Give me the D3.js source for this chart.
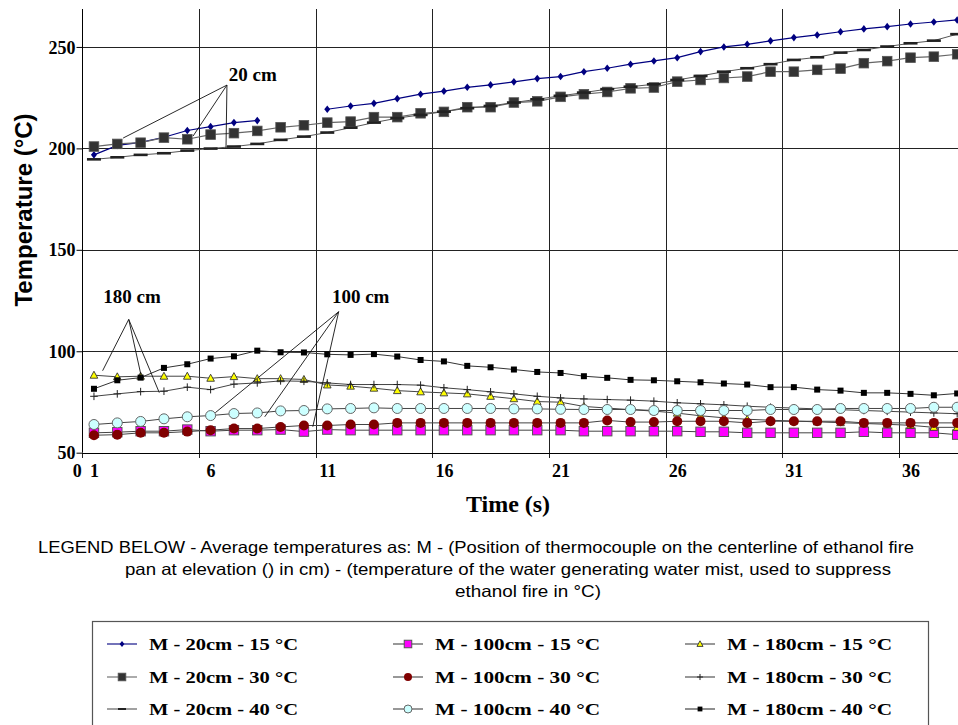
<!DOCTYPE html>
<html><head><meta charset="utf-8">
<script src="https://cdn.jsdelivr.net/npm/d3@7/dist/d3.min.js"></script>
<style>body{margin:0;background:#fff}svg{display:block}</style>
</head><body>
<svg id="c" width="958" height="725"></svg>
<script>
// ---------- data ----------
const categories = d3.range(1, 39);
const xTickLabels = [1, 6, 11, 16, 21, 26, 31, 36];
const yTicks = [50, 100, 150, 200, 250];

const s20_15  = [196.8,201.5,203,205.5,208.8,210.7,212.7,213.7,null,null,219.3,220.9,222.2,224.5,226.7,228.2,230.1,231.3,232.8,234.4,235.4,237.8,239.5,241.5,243.1,244.7,247.7,250,251.3,253,254.6,255.9,257.5,258.9,260,261.3,262.3,263.3];
const s20_30  = [200.9,202.2,202.8,205.3,204.5,206.8,207.5,208.6,210.4,211.4,212.7,213.2,215.4,215.4,217.3,218,220.3,220.3,222.6,223.2,225.4,226.7,227.8,229.6,230,232.9,233.7,234.7,235.4,237.8,237.8,238.7,239.3,242,243,244.7,245.2,246.4];
const s20_40  = [194.6,195.6,196.8,197.6,198.9,199.9,200.9,202.2,204.2,205.8,207.8,210.2,212.7,214.9,216.5,218.1,219.8,220.9,222.6,224.2,225.9,227.5,229.2,230.4,231.6,233.7,235.7,237.8,239.5,241.5,243.6,244.9,247.2,248.5,250.2,251.8,253.1,256.3];
const s100_15 = [59.8,60.1,60.6,60.6,61.4,60.6,61.1,61.1,61.4,60.4,61.4,61.1,61.1,61.1,61.1,61.1,61.1,61.1,61.1,61.1,61.1,60.6,60.6,60.6,60.6,60.6,60.3,60.3,59.8,59.8,59.8,59.8,59.8,60.3,59.8,59.8,59.8,58.9];
const s100_30 = [58.6,58.9,59.8,59.8,60.4,61.1,61.9,61.9,62.7,63.4,63.4,63.9,63.9,64.7,64.7,64.7,64.7,64.7,64.7,64.7,64.7,64.7,65.9,65.1,65.1,65.5,65.5,65.5,64.7,65.5,65.5,65.5,65.5,64.7,64.7,64.7,64.7,64.7];
const s100_40 = [63.9,64.7,65.4,66.7,67.7,68.3,69.3,69.6,70.6,70.8,71.6,71.8,72.1,71.8,71.8,71.8,71.8,71.8,71.6,71.6,71.4,71.3,71.3,71.3,70.8,70.8,70.8,70.8,70.8,71.3,71.3,71.3,71.8,71.8,71.8,71.8,72.4,72.4];
const s180_15 = [88.2,87.4,87.7,87.7,87.7,86.7,87.5,86.5,86.5,86.1,83.4,82.8,81.8,80.6,80,79.5,79,77.8,76.6,75.2,74.9,72.8,72,71.2,70.5,69.5,68.2,67.2,66.5,66,65.6,65.2,64.8,64.4,64,63.5,62.5,62.5];
const s180_30 = [77.8,79,80.1,80.3,82.3,81.1,83.8,84.4,85.4,85.2,84.4,83.6,83.6,83.6,83.3,82,81.1,80,79,77.8,77,76.5,76.2,75.9,75.4,74.6,74.1,73.6,72.9,72.4,72,71.6,71.2,70.8,70.4,70,69.6,69.2];
const s180_40 = [81.5,85.7,87,91.8,93.6,96.4,97.5,100.3,99.5,99.4,98.5,98.2,98.6,97.4,95.7,95,92.8,92.1,91,89.8,89.3,87.7,86.9,85.9,85.7,85.2,84.7,84.1,83.6,82.3,82.3,81.1,80.6,79.5,79.5,79,78.3,79.2];

const seriesNames = ["M - 20cm - 15 °C","M - 20cm - 30 °C","M - 20cm - 40 °C",
                     "M - 100cm - 15 °C","M - 100cm - 30 °C","M - 100cm - 40 °C",
                     "M - 180cm - 15 °C","M - 180cm - 30 °C","M - 180cm - 40 °C"];
const seriesData = [s20_15, s20_30, s20_40, s100_15, s100_30, s100_40, s180_15, s180_30, s180_40];

const captionLines = [
  "LEGEND BELOW -  Average temperatures as: M - (Position of thermocouple on the centerline of ethanol fire",
  "pan at elevation () in cm) - (temperature of the water generating water mist, used to suppress",
  "ethanol fire  in °C)"
];
const annotationLabels = ["20 cm", "180 cm", "100 cm"];

// ---------- styles ----------
const styles = [
  {marker:"diamond", fill:"#000080", stroke:"#000080", line:"#000080", lw:1.2},
  {marker:"bigsquare", fill:"#333333", stroke:"#555", line:"#666", lw:1.2},
  {marker:"dash", fill:"#222", stroke:"none", line:"#555", lw:1},
  {marker:"square", fill:"#ff00ff", stroke:"#555", line:"#444", lw:1},
  {marker:"circle", fill:"#800000", stroke:"#800000", line:"#444", lw:1},
  {marker:"lcircle", fill:"#ccffff", stroke:"#666", line:"#444", lw:1},
  {marker:"triangle", fill:"#ffff00", stroke:"#333", line:"#444", lw:1},
  {marker:"plus", fill:"none", stroke:"#222", line:"#444", lw:1},
  {marker:"smallsquare", fill:"#000", stroke:"#000", line:"#333", lw:1}
];
const drawOrder = [0,3,6,1,4,7,2,5,8];

// ---------- scales ----------
const svg = d3.select("#c");
svg.append("rect").attr("width",958).attr("height",725).attr("fill","#fff");
const X0 = 82.3, BW = 23.33, Y0 = 452.7, YT = 9;
const x = d3.scaleLinear().domain([0.5, 38.5]).range([X0, X0 + 38*BW]);
const y = d3.scaleLinear().domain([50, 268.7]).range([Y0, YT]);
const plotRight = 958;

// grid
const grid = svg.append("g").attr("stroke","#222").attr("stroke-width",1).attr("shape-rendering","crispEdges");
grid.selectAll(".hg").data(yTicks.slice(1)).join("line")
  .attr("x1", X0).attr("x2", plotRight).attr("y1", d=>Math.round(y(d))+0.5).attr("y2", d=>Math.round(y(d))+0.5);
const boundaries = d3.range(0.5, 38, 5);
grid.selectAll(".vg").data(boundaries.slice(1)).join("line")
  .attr("x1", d=>Math.round(x(d))+0.5).attr("x2", d=>Math.round(x(d))+0.5)
  .attr("y1", YT).attr("y2", Y0+5);
grid.append("line").attr("x1",Math.round(X0)+0.5).attr("x2",Math.round(X0)+0.5).attr("y1",Y0).attr("y2",Y0+5);

// axes
const yAxis = svg.append("g").attr("transform",`translate(${Math.round(X0)+0.5},0)`)
  .call(d3.axisLeft(y).tickValues(yTicks).tickSize(6).tickSizeOuter(0).tickPadding(1));
yAxis.select(".domain").attr("stroke","#000").attr("d",`M0,${YT}V${Y0}`);
yAxis.selectAll(".tick line").attr("stroke","#000");
yAxis.selectAll("text").attr("font-family","Liberation Serif").attr("font-weight","bold").attr("font-size",18).attr("fill","#000").attr("dy","0.34em");

const xAxis = svg.append("g").attr("transform",`translate(0,${Math.round(Y0)+0.5})`)
  .call(d3.axisBottom(x).tickValues(xTickLabels).tickSize(0).tickSizeOuter(0).tickPadding(11).tickFormat(d3.format("d")));
xAxis.select(".domain").attr("stroke","#000").attr("d",`M${X0},0H${plotRight}`);
xAxis.selectAll("text").attr("font-family","Liberation Serif").attr("font-weight","bold").attr("font-size",18).attr("fill","#000");
svg.append("text").attr("x", X0-5).attr("y", 477).attr("text-anchor","middle")
  .attr("font-family","Liberation Serif").attr("font-weight","bold").attr("font-size",18).text("0");

// axis titles
svg.append("text").attr("transform",`translate(32,210) rotate(-90)`).attr("text-anchor","middle")
  .attr("font-family","Liberation Sans").attr("font-weight","bold").attr("font-size",24).text("Temperature (°C)");
svg.append("text").attr("x",508).attr("y",512).attr("text-anchor","middle")
  .attr("font-family","Liberation Serif").attr("font-weight","bold").attr("font-size",24).text("Time (s)");

// markers
function drawMarker(g, m, st, scale=1) {
  const s = scale;
  switch(m) {
    case "diamond": g.append("path").attr("d",`M0,${-3.8*s}L${3*s},0L0,${3.8*s}L${-3*s},0Z`).attr("fill",st.fill); break;
    case "bigsquare": g.append("rect").attr("x",-4.8*s).attr("y",-4.8*s).attr("width",9.6*s).attr("height",9.6*s).attr("fill",st.fill).attr("stroke",st.stroke).attr("stroke-width",0.8); break;
    case "dash": g.append("rect").attr("x",-7*s).attr("y",-1.3).attr("width",14*s).attr("height",2.6).attr("fill",st.fill); break;
    case "square": g.append("rect").attr("x",-4.7*s).attr("y",-4.7*s).attr("width",9.4*s).attr("height",9.4*s).attr("fill",st.fill).attr("stroke",st.stroke).attr("stroke-width",1); break;
    case "circle": g.append("circle").attr("r",5*s).attr("fill",st.fill); break;
    case "lcircle": g.append("circle").attr("r",5*s).attr("fill",st.fill).attr("stroke",st.stroke).attr("stroke-width",1); break;
    case "triangle": g.append("path").attr("d",`M0,${-4*s}L${3.8*s},${3*s}L${-3.8*s},${3*s}Z`).attr("fill",st.fill).attr("stroke",st.stroke).attr("stroke-width",0.9); break;
    case "plus": g.append("path").attr("d",`M${-3.8*s},0H${3.8*s}M0,${-3.8*s}V${3.8*s}`).attr("stroke",st.stroke).attr("stroke-width",1).attr("fill","none"); break;
    case "smallsquare": g.append("rect").attr("x",-3*s).attr("y",-3*s).attr("width",6*s).attr("height",6*s).attr("fill",st.fill); break;
  }
}

svg.append("clipPath").attr("id","clip").append("rect").attr("x",X0).attr("y",0).attr("width",plotRight-X0).attr("height",Y0+2);
const plot = svg.append("g").attr("clip-path","url(#clip)");
const line = d3.line().defined(d=>d.v!=null).x(d=>x(d.c)).y(d=>y(d.v));

drawOrder.forEach(i => {
  const st = styles[i];
  const pts = categories.map((c,k)=>({c, v: seriesData[i][k]}));
  const g = plot.append("g");
  g.append("path").datum(pts).attr("d", line).attr("fill","none").attr("stroke", st.line).attr("stroke-width", st.lw);
  g.selectAll("g.m").data(pts.filter(p=>p.v!=null)).join("g").attr("class","m")
    .attr("transform", d=>`translate(${x(d.c)},${y(d.v)})`)
    .each(function(){ drawMarker(d3.select(this), st.marker, st); });
});

// annotations (anchor points in data units: category position, temperature)
const annotations = [
  {label:annotationLabels[0], tx:6.78, ty:233, apex:[6.7,231.2], ends:[[2.25,205.1],[5.25,206.1],[6.66,200.2]]},
  {label:annotationLabels[1], tx:1.4, ty:124, apex:[2.49,115.7], ends:[[1.37,90.4],[3.03,87.5],[3.8,79.6]]},
  {label:annotationLabels[2], tx:11.2, ty:124, apex:[11.49,119.5], ends:[[6.2,69.7],[8.32,67.7],[10.38,62.8]]}
];
const ag = svg.append("g");
annotations.forEach(a=>{
  a.ends.forEach(e=>{
    ag.append("line").attr("x1",x(a.apex[0])).attr("y1",y(a.apex[1])).attr("x2",x(e[0])).attr("y2",y(e[1]))
      .attr("stroke","#111").attr("stroke-width",0.9);
  });
  ag.append("text").attr("x",x(a.tx)).attr("y",y(a.ty)).attr("font-family","Liberation Serif")
    .attr("font-weight","bold").attr("font-size",19).text(a.label);
});

// caption
const capPos = [{x:38, y:553, len:876}, {x:125, y:575, len:766}, {x:455, y:597, len:146}];
captionLines.forEach((t,i)=>{
  svg.append("text").attr("x",capPos[i].x).attr("y",capPos[i].y)
    .attr("font-family","Liberation Sans").attr("font-size",16.5)
    .attr("textLength",capPos[i].len).attr("lengthAdjust","spacingAndGlyphs").text(t);
});

// legend
svg.append("rect").attr("x",92.5).attr("y",621.5).attr("width",836).attr("height",140)
  .attr("fill","#fff").attr("stroke","#555").attr("stroke-width",1.2);
const legCols = [122, 408, 700], legRows = [644, 677, 709];
seriesNames.forEach((nm,i)=>{
  const col = Math.floor(i/3), row = i%3;
  const st = styles[i];
  const g = svg.append("g").attr("transform",`translate(${legCols[col]},${legRows[row]})`);
  g.append("line").attr("x1",-15).attr("x2",15).attr("stroke",st.line).attr("stroke-width",1.1);
  if (st.marker!=="dash") drawMarker(g, st.marker, st, 0.8);
  else g.append("rect").attr("x",-4).attr("y",-1).attr("width",8).attr("height",2).attr("fill","#222");
  g.append("text").attr("x",27).attr("y",6).attr("font-family","Liberation Serif").attr("font-weight","bold")
    .attr("font-size",17.5).attr("textLength", col===0 ? 149 : 165).attr("lengthAdjust","spacingAndGlyphs").text(nm);
});
</script>
</body></html>
